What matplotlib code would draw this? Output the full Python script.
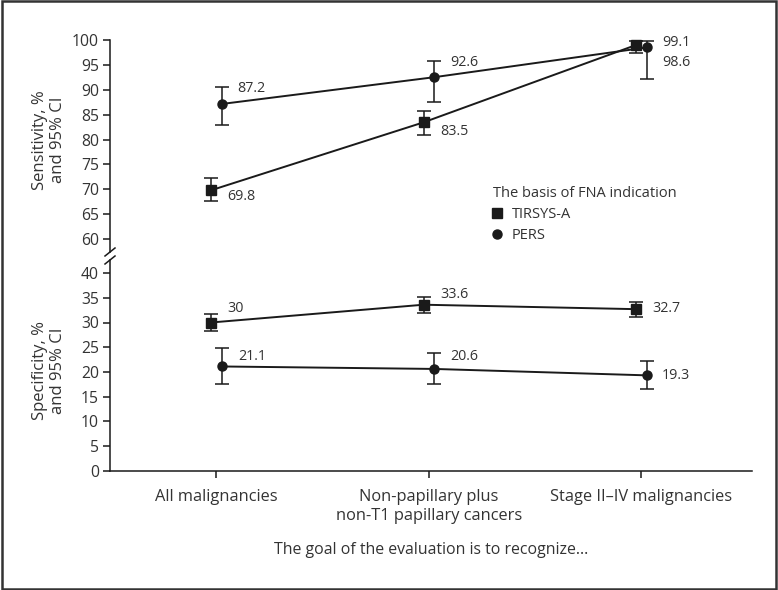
import matplotlib.pyplot as plt
from matplotlib.lines import Line2D
from matplotlib.patches import Rectangle

plt.rcParams['font.family'] = ['Open Sans', 'DejaVu Sans']
plt.rcParams['font.size'] = 10.5

TEXT = '#333333'
INK = '#1a1a1a'

categories = ['All malignancies',
              'Non-papillary plus\nnon-T1 papillary cancers',
              'Stage II\u2013IV malignancies']
series = ['TIRSYS-A', 'PERS']

# sensitivity, % and 95% CI
sens_tirsys = [69.8, 83.5, 99.1]
sens_tirsys_lo = [67.6, 80.9, 97.4]
sens_tirsys_hi = [72.2, 85.8, 99.8]
sens_pers = [87.2, 92.6, 98.6]
sens_pers_lo = [83.0, 87.5, 92.2]
sens_pers_hi = [90.6, 95.9, 99.8]

# specificity, % and 95% CI
spec_tirsys = [30, 33.6, 32.7]
spec_tirsys_lo = [28.3, 32.0, 31.2]
spec_tirsys_hi = [31.7, 35.2, 34.1]
spec_pers = [21.1, 20.6, 19.3]
spec_pers_lo = [17.6, 17.6, 16.5]
spec_pers_hi = [24.8, 23.8, 22.3]

# label offsets (points)
off_sens_tirsys = [(11.5, -4.8), (12.2, -6.5), (18.5, 2)]
off_sens_pers = [(11.5, 11.5), (11.3, 10.6), (10.8, -10.5)]
off_spec_tirsys = [(12, 10), (12, 7), (11.3, 0.7)]
off_spec_pers = [(12, 7.2), (11.3, 8.9), (10.8, 0)]

dodge = 0.025
x = list(range(len(categories)))

fig = plt.figure(figsize=(7.78, 5.9), dpi=100)
W, H = 778, 590


def px_axes(left, top, right, bottom):
    return fig.add_axes([left / W, 1 - bottom / H, (right - left) / W,
                         (bottom - top) / H])


ax_top = px_axes(110, 40.5, 752, 252)
ax_bot = px_axes(110, 260, 752, 470.7)

ax_top.set_ylim(100 - (252 - 40.5) / 4.96, 100)
ax_bot.set_ylim(0, (470.7 - 260) / 4.94)
for ax in (ax_top, ax_bot):
    ax.set_xlim(-0.5, 2.52)
    for s in ('top', 'right'):
        ax.spines[s].set_visible(False)
    ax.spines['left'].set_color(INK)
    ax.spines['left'].set_linewidth(1.1)
    ax.tick_params(axis='y', direction='out', length=5, width=1.1,
                   colors=INK, labelcolor=TEXT, pad=3, labelsize=11.3)

ax_top.spines['bottom'].set_visible(False)
ax_top.set_xticks([])
ax_top.set_yticks(range(60, 101, 5))
ax_bot.set_yticks(range(0, 41, 5))
ax_bot.spines['bottom'].set_color(INK)
ax_bot.spines['bottom'].set_linewidth(1.1)
ax_bot.set_xticks(x)
ax_bot.set_xticklabels(categories, linespacing=1.25)
ax_bot.tick_params(axis='x', direction='out', length=5, width=1.1,
                   colors=INK, labelcolor=TEXT, pad=8, labelsize=11.8)
ax_bot.set_xlabel('The goal of the evaluation is to recognize...',
                  color=TEXT, labelpad=13, fontsize=11.4)

ax_top.set_ylabel('Sensitivity, %\nand 95% CI', color=TEXT, fontsize=12,
                  linespacing=1.2)
ax_bot.set_ylabel('Specificity, %\nand 95% CI', color=TEXT, fontsize=12,
                  linespacing=1.2)
ax_top.yaxis.set_label_coords((66 - 110) / 642, 0.53)
ax_bot.yaxis.set_label_coords((66 - 110) / 642, 0.476)


def draw(ax, vals, lo, hi, shift, marker, offsets):
    xs = [i + shift for i in x]
    err = [[v - l for v, l in zip(vals, lo)], [h - v for v, h in zip(vals, hi)]]
    ax.errorbar(xs, vals, yerr=err, fmt='-' + marker, color=INK,
                markersize=6.5, linewidth=1.4, elinewidth=1.1, capsize=5,
                capthick=1.1, clip_on=False, zorder=3)
    for xi, v, off in zip(xs, vals, offsets):
        ax.annotate(f'{v:g}', (xi, v), xytext=off, textcoords='offset points',
                    ha='left', va='center', color=TEXT, fontsize=10.3)


draw(ax_top, sens_tirsys, sens_tirsys_lo, sens_tirsys_hi, -dodge, 's',
     off_sens_tirsys)
draw(ax_top, sens_pers, sens_pers_lo, sens_pers_hi, dodge, 'o',
     off_sens_pers)
draw(ax_bot, spec_tirsys, spec_tirsys_lo, spec_tirsys_hi, -dodge, 's',
     off_spec_tirsys)
draw(ax_bot, spec_pers, spec_pers_lo, spec_pers_hi, dodge, 'o',
     off_spec_pers)

handles = [Line2D([], [], marker='s', linestyle='none', color=INK,
                  markersize=6.5),
           Line2D([], [], marker='o', linestyle='none', color=INK,
                  markersize=6.5)]
leg = ax_top.legend(handles, series, title='The basis of FNA indication',
                    loc='upper left', bbox_to_anchor=(493 / W, 1 - 186 / H),
                    bbox_transform=fig.transFigure, frameon=False,
                    alignment='left', handlelength=0.6, handletextpad=0.7,
                    labelspacing=0.4, borderaxespad=0, borderpad=0,
                    title_fontsize=10.5)
leg.get_title().set_color(TEXT)
for t in leg.get_texts():
    t.set_color(TEXT)

# axis break marks
for yc in (252, 260):
    fig.add_artist(Line2D([(110 - 5) / W, (110 + 5) / W],
                          [1 - (yc + 4) / H, 1 - (yc - 4) / H],
                          color=INK, linewidth=1.1))

# outer frame
fig.add_artist(Rectangle((0.002, 0.002), 0.996, 0.996, fill=False,
                         edgecolor='#333333', linewidth=1.8,
                         transform=fig.transFigure))

fig.savefig('out.png', dpi=100)
